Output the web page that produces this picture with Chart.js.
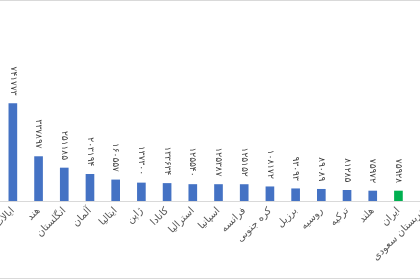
<!DOCTYPE html>
<html><head><meta charset="utf-8">
<script src="https://cdn.jsdelivr.net/npm/chart.js@4"></script>
<style>
html,body{margin:0;padding:0;width:420px;height:280px;overflow:hidden;background:#fff;}
#frame{position:absolute;left:-5px;top:0;width:440px;height:277px;border:1px solid #d9d9d9;}
#c{position:absolute;left:0;top:0;}
</style></head><body>
<div id="frame"></div>
<canvas id="c" width="437" height="280"></canvas>
<script>
const categories = ['ایالات متحده','هند','انگلستان','آلمان','ایتالیا','ژاپن','کانادا','استرالیا','اسپانیا','فرانسه','کره جنوبی','برزیل','روسیه','ترکیه','هلند','ایران','عربستان سعودی'];
const values = [741773, 337897, 251185, 203194, 160557, 137300, 133634, 125540, 125387, 125152, 108172, 93093, 89089, 81285, 75972, 75928, null];
const highlight = 'ایران';
const yMax = 1530000;

const colors = categories.map(c => c === highlight ? '#00B050' : '#4472C4');
const toFa = n => String(n).replace(/\d/g, d => '۰۱۲۳۴۵۶۷۸۹'[d]);

const valueLabels = {
  id: 'valueLabels',
  afterDatasetsDraw(chart) {
    const ctx = chart.ctx;
    const meta = chart.getDatasetMeta(0);
    ctx.save();
    ctx.font = '9px "DejaVu Sans"';
    ctx.fillStyle = '#404040';
    ctx.textAlign = 'right';
    ctx.textBaseline = 'middle';
    meta.data.forEach((bar, i) => {
      const v = chart.data.datasets[0].data[i];
      if (v == null) return;
      ctx.save();
      ctx.translate(bar.x, bar.y - 8);
      ctx.rotate(Math.PI / 2);
      ctx.fillText(toFa(v), 0, 0);
      ctx.restore();
    });
    ctx.restore();
  }
};

new Chart(document.getElementById('c'), {
  type: 'bar',
  data: { labels: categories, datasets: [{ data: values, backgroundColor: colors, barThickness: 8 }] },
  options: {
    responsive: false, animation: false, devicePixelRatio: 1,
    layout: { padding: { left: 0, right: 0, top: 0, bottom: 0 } },
    plugins: { legend: { display: false }, tooltip: { enabled: false } },
    scales: {
      x: {
        grid: { display: false, drawTicks: false },
        border: { display: true, color: '#d9d9d9', width: 1 },
        ticks: { autoSkip: false, maxRotation: 45, minRotation: 45, padding: 4, color: '#595959', font: { family: 'DejaVu Sans', size: 10 } },
        afterFit(s) { s.height = 79; s.paddingLeft = 0; s.paddingRight = 0; }
      },
      y: { display: false, min: 0, max: yMax }
    }
  },
  plugins: [valueLabels]
});
</script>
</body></html>
